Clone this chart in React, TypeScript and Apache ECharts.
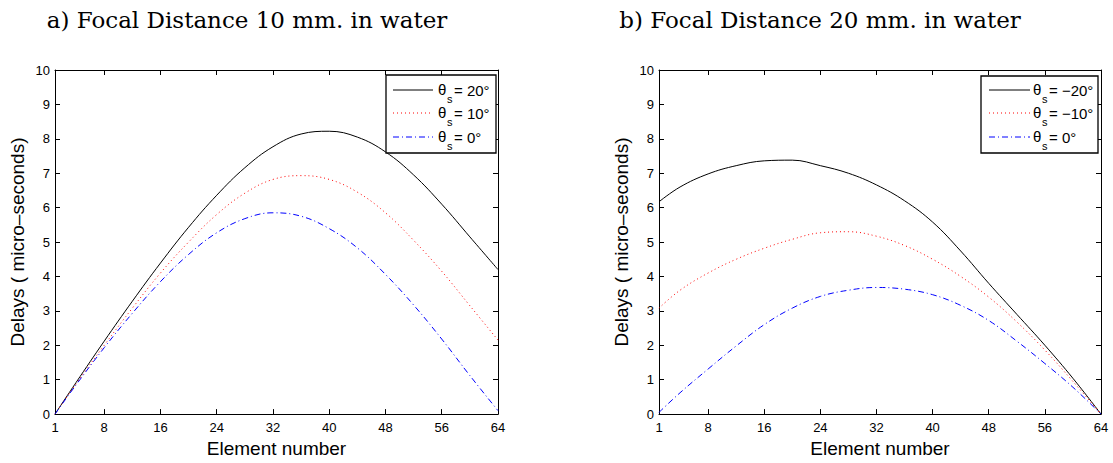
import React, { useEffect, useRef } from "react";
import * as echarts from "echarts";

const elements = [1, 4, 8, 12, 16, 20, 24, 28, 32, 36, 40, 44, 48, 52, 56, 60, 64];
const xTickLabels = [1, 8, 16, 24, 32, 40, 48, 56, 64];

// a) Focal distance 10 mm
const aTheta20 = [0, 0.92, 2.12, 3.28, 4.39, 5.43, 6.36, 7.16, 7.77, 8.14, 8.22, 8.05, 7.62, 6.95, 6.1, 5.15, 4.2];
const aTheta10 = [0, 0.88, 2.0, 3.08, 4.1, 5.0, 5.8, 6.42, 6.82, 6.93, 6.82, 6.45, 5.85, 5.05, 4.15, 3.15, 2.15];
const aTheta0 = [0, 0.85, 1.93, 2.93, 3.85, 4.64, 5.27, 5.68, 5.85, 5.75, 5.39, 4.83, 4.06, 3.17, 2.18, 1.12, 0.1];

// b) Focal distance 20 mm
const bThetaM20 = [6.17, 6.6, 6.98, 7.22, 7.36, 7.38, 7.22, 7.0, 6.66, 6.2, 5.58, 4.74, 3.8, 2.9, 2.0, 1.04, 0];
const bThetaM10 = [3.08, 3.6, 4.1, 4.5, 4.82, 5.08, 5.27, 5.3, 5.17, 4.9, 4.5, 4.0, 3.4, 2.68, 1.86, 0.95, 0];
const bTheta0 = [0.05, 0.62, 1.31, 1.98, 2.6, 3.08, 3.42, 3.6, 3.68, 3.63, 3.47, 3.16, 2.72, 2.12, 1.47, 0.78, 0];

const titles = ["a) Focal Distance 10 mm. in water", "b) Focal Distance 20 mm. in water"];
const legendA = ["= 20°", "= 10°", "= 0°"];
const legendB = ["= −20°", "= −10°", "= 0°"];
const yAxisName = "Delays ( micro–seconds)";
const xAxisName = "Element number";

const SANS = "Liberation Sans, Arial, Helvetica, sans-serif";
const SERIF = "DejaVu Serif, serif";

const lineStyles = [
  { color: "#000000", type: "solid" as any },
  { color: "#ff0000", type: [1, 3] as any },
  { color: "#0000ff", type: [6, 3, 1, 3] as any },
];

function pairs(vals: number[]) {
  return elements.map((e, i) => [e, vals[i]]);
}

function makeAxes(gridIndex: number) {
  const common = {
    type: "value" as const,
    gridIndex,
    splitLine: { show: false },
    axisLine: { show: true, onZero: false, lineStyle: { color: "#000", width: 1 } },
  };
  const xBottom = {
    ...common,
    min: 1,
    max: 64,
    position: "bottom",
    axisTick: { show: true, inside: true, length: 5, customValues: xTickLabels, lineStyle: { color: "#000" } },
    axisLabel: { show: true, customValues: xTickLabels, color: "#000", fontSize: 13, fontFamily: SANS, margin: 7 },
    name: xAxisName,
    nameLocation: "middle",
    nameGap: 22,
    nameTextStyle: { color: "#000", fontSize: 19, fontFamily: SANS },
  };
  const xTop = {
    ...common,
    min: 1,
    max: 64,
    position: "top",
    axisTick: { show: true, inside: true, length: 5, customValues: xTickLabels, lineStyle: { color: "#000" } },
    axisLabel: { show: false },
  };
  const yLeft = {
    ...common,
    min: 0,
    max: 10,
    interval: 1,
    position: "left",
    axisTick: { show: true, inside: true, length: 5, lineStyle: { color: "#000" } },
    axisLabel: { show: true, color: "#000", fontSize: 13, fontFamily: SANS, margin: 5 },
    name: yAxisName,
    nameLocation: "middle",
    nameGap: 28,
    nameTextStyle: { color: "#000", fontSize: 19, fontFamily: SANS },
  };
  const yRight = {
    ...common,
    min: 0,
    max: 10,
    interval: 1,
    position: "right",
    axisTick: { show: true, inside: true, length: 5, lineStyle: { color: "#000" } },
    axisLabel: { show: false },
  };
  return { x: [xBottom, xTop], y: [yLeft, yRight] };
}

function legendGraphic(box: { x: number; y: number; w: number; h: number }, lineX1: number, lineX2: number, textX: number, rows: number[], labels: string[]) {
  const children: any[] = [
    {
      type: "rect",
      shape: { x: box.x, y: box.y, width: box.w, height: box.h },
      style: { fill: "#fff", stroke: "#000", lineWidth: 1.3 },
      z: 100,
    },
  ];
  rows.forEach((ry, i) => {
    children.push({
      type: "line",
      shape: { x1: lineX1, y1: ry, x2: lineX2, y2: ry },
      style: { stroke: lineStyles[i].color, lineWidth: 1, lineDash: lineStyles[i].type === "solid" ? null : lineStyles[i].type },
      z: 101,
    });
    children.push({
      type: "text",
      x: textX,
      y: ry - 1,
      style: { text: "θ", fill: "#000", font: `15px ${SANS}`, verticalAlign: "middle" },
      z: 101,
    });
    children.push({
      type: "text",
      x: textX + 9,
      y: ry + 9,
      style: { text: "s", fill: "#000", font: `11px ${SANS}`, verticalAlign: "middle" },
      z: 101,
    });
    children.push({
      type: "text",
      x: textX + 16,
      y: ry,
      style: { text: labels[i], fill: "#000", font: `15px ${SANS}`, verticalAlign: "middle" },
      z: 101,
    });
  });
  return children;
}

export default function App() {
  const ref = useRef<HTMLDivElement>(null);
  useEffect(() => {
    if (!ref.current) return;
    const chart = echarts.init(ref.current, undefined, { renderer: "svg" });
    const a = makeAxes(0);
    const b = makeAxes(1);
    const seriesA = [aTheta20, aTheta10, aTheta0];
    const seriesB = [bThetaM20, bThetaM10, bTheta0];
    const series: any[] = [];
    seriesA.forEach((vals, i) =>
      series.push({
        type: "line",
        xAxisIndex: 0,
        yAxisIndex: 0,
        data: pairs(vals),
        smooth: 0.4,
        symbol: "none",
        lineStyle: { color: lineStyles[i].color, width: 1, type: lineStyles[i].type },
        z: 5,
      })
    );
    seriesB.forEach((vals, i) =>
      series.push({
        type: "line",
        xAxisIndex: 2,
        yAxisIndex: 2,
        data: pairs(vals),
        smooth: 0.4,
        symbol: "none",
        lineStyle: { color: lineStyles[i].color, width: 1, type: lineStyles[i].type },
        z: 5,
      })
    );
    chart.setOption({
      animation: false,
      backgroundColor: "#fff",
      grid: [
        { left: 55, top: 70, width: 443, height: 348 },
        { left: 659, top: 70, width: 442, height: 349 },
      ],
      xAxis: [...a.x, ...b.x],
      yAxis: [...a.y, ...b.y],
      series,
      graphic: [
        {
          type: "text",
          x: 247,
          y: 20,
          style: { text: titles[0], fill: "#000", font: `23px ${SERIF}`, align: "center", verticalAlign: "middle" },
        },
        {
          type: "text",
          x: 820,
          y: 20,
          style: { text: titles[1], fill: "#000", font: `23px ${SERIF}`, align: "center", verticalAlign: "middle" },
        },
        ...legendGraphic({ x: 386, y: 75, w: 110, h: 78 }, 393, 433, 438, [90, 113, 137], legendA),
        ...legendGraphic({ x: 981, y: 76, w: 117, h: 77 }, 989, 1030, 1033, [90, 113, 137], legendB),
      ],
    });
    return () => chart.dispose();
  }, []);
  return (
    <div
      ref={ref}
      style={{ position: "fixed", left: 0, top: 0, width: 1113, height: 463, background: "#fff" }}
    />
  );
}
